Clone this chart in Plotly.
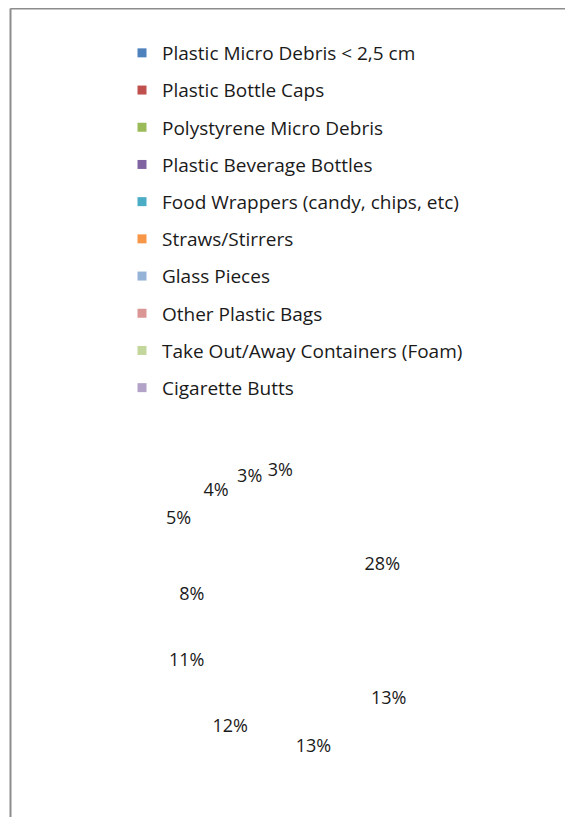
import plotly.graph_objects as go

# figure size leaves room for the page's default 8px body margin
W, H = 565, 809

categories = [
    "Plastic Micro Debris < 2,5 cm",
    "Plastic Bottle Caps",
    "Polystyrene Micro Debris",
    "Plastic Beverage Bottles",
    "Food Wrappers (candy, chips, etc)",
    "Straws/Stirrers",
    "Glass Pieces",
    "Other Plastic Bags",
    "Take Out/Away Containers (Foam)",
    "Cigarette Butts",
]
values = [28, 13, 13, 12, 11, 8, 5, 4, 3, 3]
colors = ["#4F81BD", "#C0504D", "#9BBB59", "#8064A2", "#4BACC6",
          "#F79646", "#95B3D7", "#D99694", "#C3D69B", "#B3A2C7"]

FONT = "Open Sans"
TEXT_COLOR = "#1a1a1a"

# label placement ("best fit"): small slices get their label outside
LABEL_R_INSIDE = 112
LABEL_R_OUTSIDE = 166
OUTSIDE_BELOW = 0.06
POLAR_R = 175

def px(x):
    return x / W

def py(y):
    return 1 - y / H

cx, cy = 288.0, 629.0   # pie centre (figure px)
pie_r = 145

total = sum(values)
mids, cum = [], 0.0
for v in values:
    mids.append((cum + v / 2) / total * 360.0)
    cum += v
pct_text = [f"{v / total:.0%}" for v in values]
label_r = [LABEL_R_OUTSIDE if v / total < OUTSIDE_BELOW else LABEL_R_INSIDE
           for v in values]

fig = go.Figure()

# the pie itself (slices rendered without fill, as in the reference)
fig.add_trace(go.Pie(
    labels=categories,
    values=values,
    sort=False,
    direction="clockwise",
    rotation=0,
    marker=dict(colors=["rgba(255,255,255,0)"] * len(values),
                line=dict(width=0)),
    textinfo="none",
    showlegend=False,
    domain=dict(x=[px(cx - pie_r), px(cx + pie_r)],
                y=[py(cy + pie_r), py(cy - pie_r)]),
    hoverinfo="label+percent",
))

# data labels at each slice's mid angle
fig.add_trace(go.Scatterpolar(
    r=label_r,
    theta=mids,
    mode="text",
    text=pct_text,
    textposition="middle center",
    textfont=dict(family=FONT, size=18, color=TEXT_COLOR),
    showlegend=False,
    hoverinfo="skip",
))

# legend entries
for name, col in zip(categories, colors):
    fig.add_trace(go.Scatter(
        x=[None], y=[None], mode="markers", name=name,
        legendgroup=name,
        marker=dict(symbol="square", size=9, color=col),
    ))

fig.update_layout(
    width=W, height=H,
    margin=dict(l=0, r=0, t=0, b=0),
    paper_bgcolor="white",
    plot_bgcolor="white",
    xaxis=dict(visible=False),
    yaxis=dict(visible=False),
    polar=dict(
        domain=dict(x=[px(cx - POLAR_R), px(cx + POLAR_R)],
                    y=[py(cy + POLAR_R), py(cy - POLAR_R)]),
        bgcolor="rgba(0,0,0,0)",
        radialaxis=dict(visible=False, range=[0, POLAR_R]),
        angularaxis=dict(visible=False, rotation=90, direction="clockwise"),
    ),
    legend=dict(
        x=px(114), y=py(26), xanchor="left", yanchor="top",
        traceorder="grouped", tracegroupgap=9.5,
        font=dict(family=FONT, size=19, color=TEXT_COLOR),
        bgcolor="rgba(0,0,0,0)",
    ),
    shapes=[
        dict(type="line", xref="paper", yref="paper",
             x0=px(2.5), x1=px(W), y0=py(0.5), y1=py(0.5),
             line=dict(color="#8c8c8c", width=2)),
        dict(type="line", xref="paper", yref="paper",
             x0=px(2.5), x1=px(2.5), y0=py(0.5), y1=py(H),
             line=dict(color="#8c8c8c", width=2)),
    ],
)

fig.write_html("out.html")
